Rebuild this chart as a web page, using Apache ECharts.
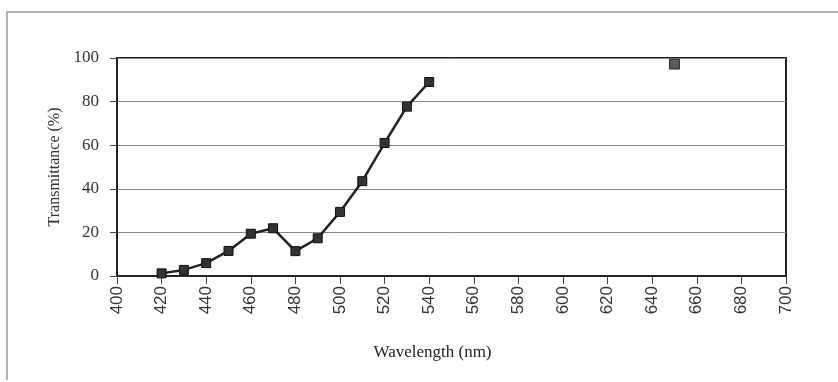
<!DOCTYPE html>
<html>
<head>
<meta charset="utf-8">
<script src="https://cdn.jsdelivr.net/npm/echarts@6/dist/echarts.min.js"></script>
<style>
html, body { margin: 0; padding: 0; background: #fff; }
#main { width: 838px; height: 382px; }
</style>
</head>
<body>
<div id="main"></div>
<script>
// wavelengths (nm) of the connected curve and its transmittance (%)
const wavelengths = [420, 430, 440, 450, 460, 470, 480, 490, 500, 510, 520, 530, 540];
const transmittance = [1.2, 2.8, 5.9, 11.5, 19.4, 21.9, 11.4, 17.3, 29.4, 43.5, 61, 77.7, 89];
// lone point, not joined to the curve
const loneWavelength = [650];
const loneTransmittance = [97.2];

const xTicks = { min: 400, max: 700, interval: 20 };
const yTicks = { min: 0, max: 100, interval: 20 };

let myChart = echarts.init(document.getElementById('main'));

let option = {
	backgroundColor: '#fff',
	animation: false,
	grid: {
		left: 117,
		right: 52,
		top: 58,
		bottom: 106,
		show: true,
		borderColor: '#222',
		borderWidth: 2
	},
	xAxis: {
		type: 'value',
		min: xTicks.min,
		max: xTicks.max,
		interval: xTicks.interval,
		name: 'Wavelength (nm)',
		nameLocation: 'middle',
		nameGap: 68,
		nameTextStyle: {
			fontFamily: 'Liberation Serif',
			fontSize: 17,
			color: '#222',
			padding: [0, 38, 0, 0]
		},
		axisLine: { lineStyle: { color: '#222', width: 2 } },
		axisTick: { show: true, length: 8, lineStyle: { color: '#444' } },
		axisLabel: {
			rotate: 90,
			margin: 10,
			fontFamily: 'Liberation Sans',
			fontSize: 17,
			color: '#333'
		},
		splitLine: { show: false }
	},
	yAxis: {
		type: 'value',
		min: yTicks.min,
		max: yTicks.max,
		interval: yTicks.interval,
		name: 'Transmittance (%)',
		nameLocation: 'middle',
		nameGap: 54,
		nameTextStyle: {
			fontFamily: 'Liberation Serif',
			fontSize: 16,
			color: '#333'
		},
		axisLine: { lineStyle: { color: '#222', width: 2 } },
		axisTick: { show: true, length: 7, inside: false, lineStyle: { color: '#444' } },
		axisLabel: {
			margin: 18,
			fontFamily: 'Liberation Serif',
			fontSize: 17,
			color: '#333'
		},
		splitLine: { show: true, lineStyle: { color: '#888', width: 1 } }
	},
	graphic: [
		{ // scanned page edge, top and left only
			type: 'polyline',
			shape: { points: [[7, 380], [7, 12], [838, 12]] },
			style: { stroke: '#999', lineWidth: 1.5, fill: null },
			silent: true
		}
	],
	series: [
		{
			name: 'curve',
			type: 'line',
			data: wavelengths.map((w, i) => [w, transmittance[i]]),
			symbol: 'rect',
			symbolSize: 9,
			lineStyle: { color: '#222', width: 2.5 },
			itemStyle: { color: '#333', borderColor: '#111', borderWidth: 1 }
		},
		{
			name: 'lone',
			type: 'scatter',
			data: loneWavelength.map((w, i) => [w, loneTransmittance[i]]),
			symbol: 'rect',
			symbolSize: 10,
			itemStyle: { color: '#333', borderColor: '#111', borderWidth: 1 }
		}
	]
};
myChart.setOption(option);
</script>
</body>
</html>
